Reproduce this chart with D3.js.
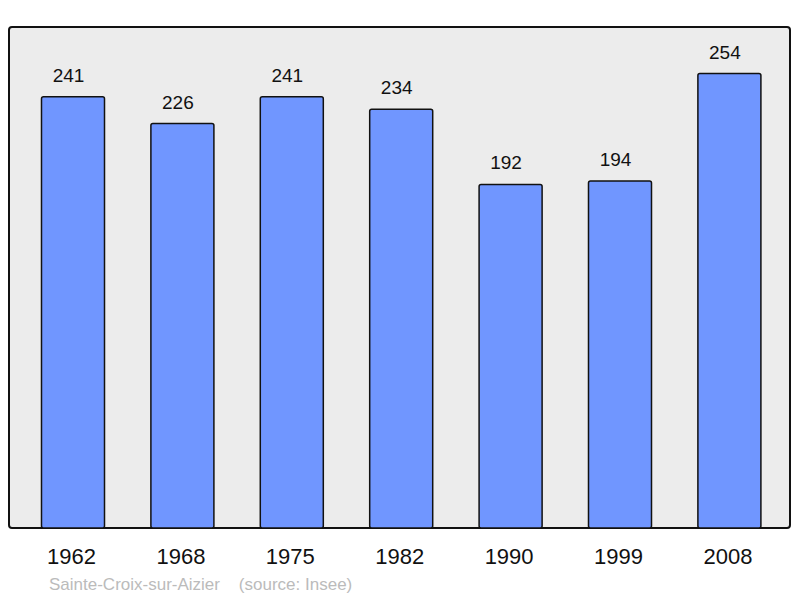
<!DOCTYPE html>
<html>
<head>
<meta charset="utf-8">
<script src="https://cdn.jsdelivr.net/npm/d3@7"></script>
<style>
  body { margin: 0; background: #fff; }
  svg { display: block; font-family: "Liberation Sans", Arial, sans-serif; }
</style>
</head>
<body>
<svg id="chart" width="800" height="598"></svg>
<script>
var years = ['1962', '1968', '1975', '1982', '1990', '1999', '2008']
var population = [241, 226, 241, 234, 192, 194, 254]
var commune = 'Sainte-Croix-sur-Aizier'
var source = '(source: Insee)'

var svg = d3.select('#chart'),
    panel = {left: 9, top: 27, right: 790, bottom: 528}

var x = d3.scaleBand()
    .domain(years)
    .range([18.3, 784.1])
    .paddingInner(0.424)
    .paddingOuter(0.212)

var y = d3.scaleLinear()
    .domain([0, 280])
    .range([panel.bottom, panel.top])

// grey panel
svg.append('rect')
    .attr('x', panel.left)
    .attr('y', panel.top)
    .attr('width', panel.right - panel.left)
    .attr('height', panel.bottom - panel.top)
    .attr('rx', 3)
    .attr('fill', '#ececec')
    .attr('stroke', '#111')
    .attr('stroke-width', 2)

var data = years.map(function(d, i) { return {year: d, value: population[i]} })

svg.selectAll('.bar')
    .data(data)
    .enter().append('rect')
    .attr('class', 'bar')
    .attr('x', function(d) { return x(d.year) })
    .attr('y', function(d) { return y(d.value) })
    .attr('width', x.bandwidth())
    .attr('height', function(d) { return y(0) - y(d.value) })
    .attr('rx', 2)
    .attr('fill', '#7096ff')
    .attr('stroke', '#111')
    .attr('stroke-width', 1.5)

// value labels sit a bit left of the bar centre in the original
svg.selectAll('.val')
    .data(data)
    .enter().append('text')
    .attr('class', 'val')
    .attr('x', function(d) { return x(d.year) + x.bandwidth() / 2 - 4.5 })
    .attr('y', function(d) { return y(d.value) - 15 })
    .attr('text-anchor', 'middle')
    .style('font-size', '19px')
    .attr('fill', '#111')
    .text(function(d) { return d.value })

// x axis labels
var xAxis = svg.append('g')
    .attr('transform', 'translate(-1.5,' + panel.bottom + ')')
    .call(d3.axisBottom(x).tickSize(0).tickPadding(20))
xAxis.select('.domain').remove()
xAxis.selectAll('text')
    .style('font-size', '22px')
    .style('font-family', '"Liberation Sans", Arial, sans-serif')
    .attr('fill', '#111')

svg.append('text')
    .attr('x', 49)
    .attr('y', 590)
    .style('font-size', '17px')
    .attr('fill', '#bbb')
    .text(commune + '\u00a0\u00a0\u00a0\u00a0' + source)
</script>
</body>
</html>
